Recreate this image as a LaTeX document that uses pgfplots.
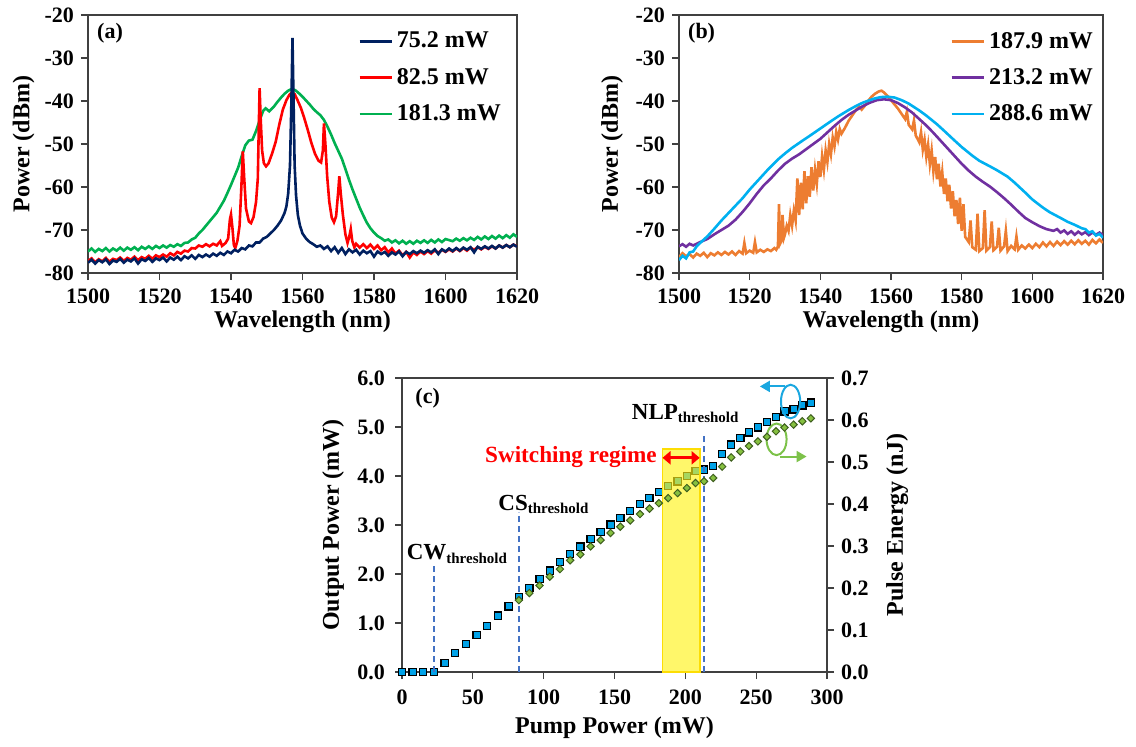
\documentclass[border=0pt]{standalone}
\usepackage{fontspec}
\setmainfont{Liberation Serif}
\usepackage{pgfplots}
\pgfplotsset{compat=1.18}
\usetikzlibrary{arrows.meta}

\definecolor{navyc}{HTML}{002060}
\definecolor{redc}{HTML}{FF0000}
\definecolor{greenc}{HTML}{00B050}
\definecolor{orangec}{HTML}{ED7D31}
\definecolor{purplec}{HTML}{7030A0}
\definecolor{cyanc}{HTML}{00B0F0}
\definecolor{sqfill}{HTML}{00A2E8}
\definecolor{dmfill}{HTML}{86C040}
\definecolor{dmedge}{HTML}{3F5F1F}
\definecolor{dashc}{HTML}{4472C4}
\definecolor{ellb}{HTML}{1AA7E0}
\definecolor{ellg}{HTML}{7DC24A}
\definecolor{framec}{HTML}{404040}

\newcommand{\thr}[1]{#1\raisebox{-0.3ex}{\fontsize{7.5}{8}\selectfont threshold}}

\pgfplotsset{
  base/.style={
    scale only axis,
    axis line style={framec, line width=0.6pt},
    every tick/.style={framec, line width=0.6pt},
    tick align=outside, major tick length=3.5pt,
    xtick pos=bottom, ytick pos=left,
    tick label style={font=\bfseries\fontsize{11}{13}\selectfont},
    label style={font=\bfseries\fontsize{12}{14}\selectfont},
    /pgf/number format/assume math mode=true,
    /pgf/number format/1000 sep={},
    xlabel style={at={(axis description cs:0.5,-0.19)}, anchor=center},
  },
  spec/.style={
    base, width=214.5pt, height=129pt,
    xmin=1500, xmax=1620, ymin=-80, ymax=-20,
    xtick={1500,1520,...,1620}, ytick={-80,-70,...,-20},
    xticklabel style={yshift=-0.8pt},
    xlabel={Wavelength (nm)}, ylabel={Power (dBm)},
    legend style={draw=none, fill=none, anchor=west,
      font=\bfseries\fontsize{12}{14}\selectfont, row sep=4.6pt,
      /tikz/every even column/.append style={column sep=0pt}},
    legend cell align=left,
    legend image code/.code={\draw[#1] (0pt,0pt) -- (16pt,0pt);},
    every axis plot/.append style={line width=1.3pt},
  },
}

\begin{document}
\begin{tikzpicture}
\useasboundingbox (0,0) rectangle (568pt,373pt);

% (a)
\begin{axis}[spec, at={(44pt,236.5pt)},
  ylabel style={at={(axis description cs:-0.150,0.5)}, anchor=center},
  legend style={at={(0.615,0.757)}}]
\addlegendimage{navyc, line width=1.3pt}\addlegendentry{75.2 mW}
\addlegendimage{redc, line width=1.3pt}\addlegendentry{82.5 mW}
\addlegendimage{greenc, line width=1.3pt}\addlegendentry{181.3 mW}
\addplot[greenc, forget plot] coordinates {
(1500,-75.0) (1501,-74.3) (1502,-75.1) (1503,-74.4) (1504,-74.9) (1505,-74.2) (1506,-75.0) (1507,-74.3)
(1508,-74.8) (1509,-74.1) (1510,-74.8) (1511,-74.1) (1512,-74.6) (1513,-74.0) (1514,-74.7) (1515,-73.9)
(1516,-74.4) (1517,-73.8) (1518,-74.4) (1519,-73.7) (1520,-74.2) (1521,-73.6) (1522,-74.1) (1523,-73.5)
(1524,-73.9) (1525,-73.3) (1526,-73.7) (1527,-73.0) (1528,-72.9) (1529,-72.2) (1530,-71.8) (1531,-70.8)
(1532,-70.0) (1533,-69.0) (1534,-68.0) (1535,-67.0) (1536,-66.0) (1537,-64.6) (1538,-63.2) (1539,-61.4)
(1540,-59.5) (1541,-57.5) (1542,-55.5) (1543,-52.8) (1544,-50.3) (1545,-49.2) (1546,-49.0) (1547,-47.0)
(1548,-44.5) (1549,-42.3) (1549.7,-41.7) (1550.7,-42.4) (1552,-41.3) (1553,-40.2) (1554,-39.2) (1555,-38.3)
(1556,-37.6) (1557,-37.2) (1558,-37.5) (1559,-38.2) (1560,-39.0) (1561,-39.9) (1562,-40.8) (1563,-41.8)
(1564,-42.6) (1565,-43.3) (1566,-44.4) (1567,-46.0) (1568,-47.8) (1569,-49.8) (1570,-51.6) (1571,-53.4)
(1572,-55.8) (1573,-58.3) (1574,-60.6) (1575,-62.7) (1576,-64.8) (1577,-66.6) (1578,-68.3) (1579,-69.6)
(1580,-70.6) (1581,-71.4) (1582,-71.9) (1583,-72.5) (1584,-72.2) (1585,-72.9) (1586,-72.4) (1587,-73.1)
(1588,-72.5) (1589,-73.2) (1590,-72.6) (1591,-73.2) (1592,-72.5) (1593,-73.0) (1594,-72.4) (1595,-73.0)
(1596,-72.3) (1597,-72.9) (1598,-72.2) (1599,-72.8) (1600,-72.1) (1602,-72.6) (1603,-72.0) (1604,-72.5)
(1605,-71.9) (1606,-72.4) (1607,-71.8) (1608,-72.3) (1609,-71.6) (1610,-72.2) (1611,-71.5) (1612,-72.1)
(1613,-71.4) (1614,-72.0) (1615,-71.3) (1616,-71.9) (1617,-71.2) (1618,-71.8) (1619,-71.0) (1620,-71.6)
};
\addplot[redc, forget plot] coordinates {
(1500,-77.2) (1501,-76.6) (1502,-77.5) (1503,-76.8) (1504,-77.3) (1505,-76.5) (1506,-77.4) (1507,-76.7)
(1508,-77.0) (1509,-76.4) (1510,-77.2) (1511,-76.5) (1512,-76.9) (1513,-76.2) (1514,-77.0) (1515,-76.3)
(1516,-76.7) (1517,-76.0) (1518,-76.7) (1519,-75.9) (1520,-76.3) (1521,-75.7) (1522,-76.2) (1523,-75.4)
(1524,-75.9) (1525,-75.1) (1526,-75.5) (1527,-74.8) (1528,-75.0) (1529,-74.2) (1530,-74.3) (1531,-73.6)
(1532,-73.9) (1533,-73.3) (1534,-73.8) (1535,-73.2) (1536,-73.6) (1537,-72.6) (1537.5,-73.7) (1538.5,-73.0)
(1539.2,-72.0) (1539.7,-67.5) (1540.0,-66.4) (1540.4,-69.5) (1540.8,-73.5) (1541.2,-74.2) (1541.8,-72.5)
(1542.4,-69.0) (1542.9,-60.0) (1543.3,-51.7) (1543.7,-58.0) (1544.2,-65.0) (1545,-68.0) (1545.6,-68.4)
(1546.3,-67.0) (1547,-63.5) (1547.5,-58.0) (1547.8,-45.0) (1548.0,-37.0) (1548.3,-44.0) (1548.7,-51.5)
(1549.2,-54.5) (1549.8,-55.2) (1550.5,-54.5) (1551.5,-52.2) (1552.5,-49.5) (1553.5,-45.5) (1554.5,-42.0)
(1555.5,-39.8) (1556.3,-38.6) (1557,-38.0) (1557.8,-38.4) (1558.5,-39.6) (1559.5,-41.5) (1560.5,-44.0)
(1561.5,-46.8) (1562.5,-49.8) (1563.5,-52.3) (1564.5,-53.9) (1565.2,-54.3) (1565.7,-51.5) (1566.0,-45.2)
(1566.4,-50.0) (1566.9,-57.5) (1567.5,-63.5) (1568.2,-67.2) (1568.8,-68.2) (1569.4,-66.8) (1570.0,-61.0)
(1570.3,-57.5) (1570.7,-61.5) (1571.3,-66.5) (1572,-71.0) (1572.6,-73.0) (1573.1,-71.5) (1573.5,-69.8)
(1573.9,-72.5) (1574.5,-74.0) (1575,-73.2) (1576,-74.1) (1577,-73.3) (1578,-74.2) (1579,-73.4) (1580,-74.4)
(1581,-73.6) (1582,-74.7) (1583,-74.0) (1584,-75.2) (1585,-74.3) (1586,-75.5) (1587,-74.8) (1588,-75.9)
(1589,-75.1) (1590,-76.4) (1591,-75.2) (1592,-75.8) (1593,-75.0) (1594,-75.6) (1595,-74.9) (1596,-75.5)
(1597,-74.7) (1598,-75.3) (1599,-74.6) (1600,-75.1) (1601,-74.5) (1602,-75.0) (1603,-74.3) (1604,-74.9)
(1605,-74.2) (1606,-74.8) (1607,-74.1) (1608,-74.6) (1609,-74.0) (1610,-74.5) (1611,-73.9) (1612,-74.4)
(1613,-73.8) (1614,-74.3) (1615,-73.6) (1616,-74.1) (1617,-73.5) (1618,-74.0) (1619,-73.4) (1620,-73.8)
};
\addplot[navyc, forget plot] coordinates {
(1500,-77.6) (1501,-76.9) (1502,-77.8) (1503,-77.0) (1504,-77.5) (1505,-76.8) (1506,-77.9) (1507,-77.1)
(1508,-77.4) (1509,-76.7) (1510,-77.6) (1511,-76.9) (1512,-77.3) (1513,-76.6) (1514,-77.8) (1515,-76.8)
(1516,-77.2) (1517,-76.5) (1518,-77.4) (1519,-76.6) (1520,-77.0) (1521,-76.4) (1522,-77.3) (1523,-76.4)
(1524,-76.9) (1525,-76.2) (1526,-77.0) (1527,-76.1) (1528,-76.6) (1529,-75.9) (1530,-76.7) (1531,-75.8)
(1532,-76.3) (1533,-75.7) (1534,-76.2) (1535,-75.5) (1536,-76.0) (1537,-75.3) (1538,-75.8) (1539,-75.0)
(1540,-75.4) (1541,-74.6) (1542,-75.0) (1543,-74.2) (1544,-74.5) (1545,-73.6) (1546,-73.8) (1547,-72.9)
(1548,-72.9) (1549,-72.0) (1550,-71.6) (1551,-70.8) (1552,-70.0) (1553,-69.0) (1554,-67.8) (1555,-66.0)
(1555.5,-64.5) (1556,-61.5) (1556.5,-55.0) (1556.9,-40.0) (1557.2,-25.3) (1557.5,-40.0) (1557.8,-55.0)
(1558.2,-62.0) (1558.7,-66.5) (1559.3,-69.0) (1560,-70.8) (1561,-72.0) (1562,-72.8) (1563,-73.3)
(1564,-73.9) (1565,-73.6) (1566,-74.4) (1567,-73.8) (1568,-74.9) (1569,-74.0) (1570,-75.3) (1571,-74.2)
(1572,-75.6) (1573,-74.5) (1574,-75.2) (1575,-74.6) (1576,-75.7) (1577,-74.8) (1578,-75.4) (1579,-74.9)
(1580,-76.2) (1581,-75.0) (1582,-75.6) (1583,-75.1) (1584,-76.0) (1585,-75.2) (1586,-75.7) (1587,-75.0)
(1588,-76.1) (1589,-75.1) (1590,-75.6) (1591,-74.9) (1592,-75.4) (1593,-74.8) (1594,-75.3) (1595,-74.7)
(1596,-75.2) (1597,-74.5) (1598,-75.6) (1599,-74.5) (1600,-75.0) (1601,-74.3) (1602,-74.9) (1603,-74.2)
(1604,-74.8) (1605,-74.1) (1606,-74.6) (1607,-74.0) (1608,-75.2) (1609,-73.9) (1610,-74.4) (1611,-73.8)
(1612,-74.3) (1613,-73.7) (1614,-74.3) (1615,-73.6) (1616,-74.1) (1617,-73.5) (1618,-74.0) (1619,-73.4)
(1620,-73.9)
};
\node[anchor=west, font=\bfseries\fontsize{11}{13}\selectfont] at (axis cs:1500.6,-24.2) {(a)};
\end{axis}

% (b)
\begin{axis}[spec, at={(339.5pt,236.5pt)}, width=212pt,
  ylabel style={at={(axis description cs:-0.158,0.5)}, anchor=center},
  legend style={at={(0.625,0.757)}}]
\addplot[orangec] coordinates {
(1500,-76.3) (1501,-75.4) (1502,-76.1) (1503,-75.6) (1504,-76.4) (1505,-75.5) (1506,-76.0) (1507,-75.3)
(1508,-76.3) (1509,-75.4) (1510,-75.9) (1511,-75.2) (1512,-75.8) (1513,-75.1) (1514,-75.7) (1515,-75.0)
(1516,-75.8) (1517,-74.9) (1518,-75.5) (1518.5,-73.0) (1519,-75.4) (1520,-74.8) (1521,-75.3) (1521.5,-72.8)
(1522,-75.2) (1523,-74.6) (1524,-75.1) (1525,-74.5) (1526,-74.9) (1527,-74.2) (1527.5,-74.6) (1528,-73.8)
(1528.3,-64.0) (1528.6,-73.2) (1529,-72.5) (1529.3,-66.5) (1529.7,-71.8) (1530,-71.0) (1530.5,-69.0)
(1531,-70.2) (1531.5,-66.5) (1532,-69.0) (1532.5,-65.5) (1533,-67.8) (1533.5,-58.0) (1534,-66.5)
(1534.5,-59.0) (1535,-65.2) (1535.5,-56.3) (1536,-63.8) (1536.5,-57.5) (1537,-62.3) (1537.5,-55.4)
(1538,-60.8) (1538.5,-56.0) (1539,-59.3) (1539.5,-54.0) (1540,-57.7) (1540.5,-52.8) (1541,-56.0)
(1541.5,-51.5) (1542,-54.2) (1542.5,-50.0) (1543,-52.4) (1543.5,-48.5) (1544,-50.6) (1544.5,-47.2)
(1545,-49.0) (1545.5,-46.5) (1546,-47.6) (1547,-46.2) (1548,-44.6) (1549,-43.4) (1550,-42.2) (1551,-41.3)
(1551.7,-42.0) (1552.5,-41.2) (1553.5,-40.0) (1554.5,-39.0) (1555.5,-38.3) (1556.5,-37.8) (1557.3,-37.6)
(1558,-38.0) (1559,-38.8) (1560,-39.8) (1561,-40.8) (1562,-41.8) (1563,-43.0) (1564,-44.2) (1564.5,-42.5)
(1565,-45.5) (1566,-46.6) (1566.5,-44.5) (1567,-48.0) (1568,-49.6) (1568.5,-47.2) (1569,-51.3)
(1569.5,-49.0) (1570,-53.0) (1570.5,-50.2) (1571,-54.7) (1571.5,-51.5) (1572,-56.4) (1572.5,-53.0)
(1573,-58.2) (1573.5,-54.6) (1574,-59.9) (1574.5,-56.5) (1575,-61.6) (1575.5,-58.0) (1576,-63.3)
(1576.5,-59.5) (1577,-65.0) (1577.5,-61.0) (1578,-66.8) (1578.5,-63.0) (1579,-68.6) (1579.5,-62.5)
(1580,-70.2) (1580.5,-64.0) (1581,-71.6) (1582,-72.8) (1582.5,-67.8) (1583,-74.0) (1584,-74.6)
(1584.5,-66.2) (1585,-74.9) (1586,-74.2) (1586.5,-65.4) (1587,-74.8) (1588,-74.0) (1588.5,-68.0)
(1589,-74.7) (1590,-73.9) (1590.5,-69.5) (1591,-74.8) (1592,-73.8) (1592.5,-70.2) (1593,-74.9)
(1594,-73.7) (1595,-74.5) (1595.5,-71.5) (1596,-74.6) (1597,-73.6) (1598,-74.3) (1599,-73.4) (1600,-74.2)
(1601,-73.2) (1602,-74.0) (1603,-72.9) (1604,-73.8) (1605,-72.8) (1606,-73.7) (1607,-72.7) (1608,-73.5)
(1609,-72.6) (1610,-73.4) (1611,-72.5) (1612,-73.3) (1613,-72.4) (1614,-73.2) (1615,-72.5) (1616,-73.4)
(1617,-72.3) (1618,-73.1) (1619,-72.2) (1620,-73.0)
};
\addlegendentry{187.9 mW}
\addplot[purplec] coordinates {
(1500,-73.8) (1501,-73.3) (1502,-73.9) (1503,-73.2) (1504,-73.6) (1506,-72.8) (1508,-72.1) (1510,-71.0)
(1512,-70.0) (1514,-69.0) (1516,-67.6) (1518,-65.8) (1520,-63.8) (1522,-61.6) (1524,-59.6) (1526,-58.0)
(1528,-56.2) (1530,-54.6) (1532,-53.4) (1534,-52.4) (1536,-51.2) (1538,-50.0) (1540,-48.8) (1542,-47.3)
(1544,-45.8) (1546,-44.4) (1548,-43.2) (1550,-42.2) (1552,-41.2) (1554,-40.4) (1556,-39.8) (1558,-39.6)
(1560,-39.8) (1562,-40.5) (1564,-41.5) (1566,-42.7) (1568,-44.2) (1570,-45.7) (1572,-47.4) (1574,-49.2)
(1576,-51.0) (1578,-52.8) (1580,-54.6) (1582,-56.2) (1584,-57.6) (1586,-58.8) (1588,-59.9) (1590,-61.2)
(1592,-62.6) (1594,-64.1) (1596,-65.7) (1598,-67.2) (1600,-68.2) (1602,-69.1) (1604,-69.8) (1606,-70.2)
(1607,-69.8) (1608,-70.6) (1609,-70.1) (1610,-70.9) (1611,-70.3) (1612,-71.1) (1613,-70.4) (1614,-71.0)
(1615,-70.5) (1616,-71.2) (1617,-70.6) (1618,-71.1) (1619,-70.6) (1620,-71.2)
};
\addlegendentry{213.2 mW}
\addplot[cyanc] coordinates {
(1500,-77.0) (1501,-76.0) (1502,-76.6) (1503,-75.2) (1504,-75.0) (1505,-73.8) (1506,-73.0) (1508,-71.5)
(1510,-69.7) (1512,-67.8) (1515,-65.2) (1518,-62.6) (1520,-60.6) (1522,-58.8) (1525,-56.1) (1528,-53.6)
(1530,-52.2) (1532,-50.9) (1535,-49.2) (1537,-48.1) (1540,-46.4) (1543,-44.7) (1545,-43.6) (1548,-42.1)
(1550,-41.2) (1552,-40.4) (1555,-39.5) (1557,-39.1) (1559,-39.0) (1561,-39.2) (1563,-39.8) (1565,-40.6)
(1568,-42.2) (1570,-43.4) (1573,-45.4) (1575,-46.9) (1578,-49.2) (1580,-50.7) (1583,-52.7) (1585,-53.9)
(1588,-55.2) (1590,-56.1) (1593,-57.6) (1595,-59.0) (1598,-61.3) (1600,-62.9) (1603,-64.8) (1605,-65.9)
(1608,-67.2) (1610,-68.1) (1612,-68.8) (1614,-69.6) (1615,-69.8) (1616,-70.6) (1617,-70.3) (1618,-71.3)
(1619,-70.9) (1620,-71.8)
};
\addlegendentry{288.6 mW}
\node[anchor=west, font=\bfseries\fontsize{11}{13}\selectfont] at (axis cs:1500.6,-24.2) {(b)};
\end{axis}

% (c) left axis
\begin{axis}[base, at={(201pt,37pt)}, width=212.5pt, height=147pt,
  xmin=0, xmax=300, ymin=0, ymax=6,
  xtick={0,50,...,300}, ytick={0,1,...,6},
  xticklabel style={yshift=-2pt},
  yticklabel style={xshift=-1.5pt, /pgf/number format/.cd, fixed, fixed zerofill, precision=1},
  xlabel={Pump Power (mW)}, ylabel={Output Power (mW)},
  ylabel style={at={(axis description cs:-0.162,0.5)}, anchor=center}]
\addplot[only marks, mark=square*, mark size=1.8pt,
  mark options={fill=sqfill, draw=black, line width=0.6pt}] coordinates {
(0,0) (7.5,0) (15,0) (22.5,0) (30.1,0.18) (37.6,0.39) (45.1,0.57) (52.6,0.76) (60.1,0.94) (67.7,1.15)
(75.2,1.34) (82.5,1.53) (89.9,1.71) (97.1,1.90) (104.3,2.07) (111.5,2.24) (118.7,2.41) (125.9,2.56)
(133.1,2.71) (140.2,2.86) (147.2,3.01) (154.1,3.14) (161.1,3.29) (168.0,3.43) (174.7,3.55) (181.3,3.67)
(187.9,3.79) (194.5,3.89) (201.1,4.00) (207.2,4.10) (213.2,4.13) (219.7,4.20) (226.0,4.45) (232.4,4.64)
(238.8,4.77) (244.9,4.89) (251.2,4.99) (257.6,5.10) (264.0,5.21) (270.0,5.32) (276.4,5.36) (282.6,5.44)
(288.6,5.50)
};
\end{axis}

% (c) right axis
\begin{axis}[base, at={(201pt,37pt)}, width=212.5pt, height=147pt,
  xmin=0, xmax=300, ymin=0, ymax=0.7,
  axis x line=none, axis y line*=right, ytick pos=right,
  ytick={0,0.1,0.2,0.3,0.4,0.5,0.6,0.7},
  yticklabel style={/pgf/number format/.cd, fixed, fixed zerofill, precision=1},
  ylabel={Pulse Energy (nJ)},
  ylabel style={at={(axis description cs:1.165,0.5)}, anchor=center}]
\addplot[only marks, mark=square*, mark size=1.3pt,
  mark options={rotate=45, fill=dmfill, draw=dmedge, line width=0.5pt}] coordinates {
(82.5,0.171) (89.9,0.188) (97.1,0.206) (104.3,0.227) (111.5,0.245) (118.7,0.266) (125.9,0.280)
(133.1,0.299) (140.2,0.314) (147.2,0.331) (154.1,0.346) (161.1,0.361) (168.0,0.376) (174.7,0.389)
(181.3,0.402) (187.9,0.414) (194.5,0.426) (201.1,0.438) (207.2,0.450) (213.2,0.454) (219.7,0.462)
(226.0,0.489) (232.4,0.511) (238.8,0.525) (244.9,0.538) (251.2,0.549) (257.6,0.560) (264.0,0.573)
(270.0,0.582) (276.4,0.589) (282.6,0.597) (288.6,0.604)
};
\fill[yellow!90!white, opacity=0.65] (axis cs:183.7,0) rectangle (axis cs:210.3,0.531);
\draw[yellow!80!orange, line width=0.6pt] (axis cs:183.7,0) rectangle (axis cs:210.3,0.531);
\draw[dashc, line width=1pt, dash pattern=on 3pt off 2pt] (axis cs:22.5,0) -- (axis cs:22.5,0.259);
\draw[dashc, line width=1pt, dash pattern=on 3pt off 2pt] (axis cs:82.5,0) -- (axis cs:82.5,0.381);
\draw[dashc, line width=1pt, dash pattern=on 3pt off 2pt] (axis cs:213.5,0) -- (axis cs:213.5,0.565);
\node[anchor=base west, inner sep=0pt, font=\bfseries\fontsize{11.5}{13}\selectfont] at (axis cs:3.1,0.267) {\thr{CW}};
\node[anchor=base west, inner sep=0pt, font=\bfseries\fontsize{11.5}{13}\selectfont] at (axis cs:67.8,0.385) {\thr{CS}};
\node[anchor=base west, inner sep=0pt, font=\bfseries\fontsize{11.5}{13}\selectfont] at (axis cs:162,0.602) {\thr{NLP}};
\node[anchor=base east, inner sep=0pt, text=redc, font=\bfseries\fontsize{11.6}{13}\selectfont] at (axis cs:180.1,0.498) {Switching regime};
\draw[redc, line width=1.6pt, {Triangle[length=4pt,width=6.5pt]}-{Triangle[length=4pt,width=6.5pt]}] (axis cs:183.9,0.510) -- (axis cs:210.1,0.510);
\node[anchor=west, font=\bfseries\fontsize{11}{13}\selectfont] at (axis cs:4.5,0.652) {(c)};
\draw[ellb, line width=1pt] (axis cs:274.3,0.644) ellipse [x radius=4.8pt, y radius=8.4pt];
\draw[ellb, line width=1pt, -{Triangle[length=5pt,width=5.5pt]}] (axis cs:270,0.680) -- (axis cs:252.6,0.680);
\draw[ellg, line width=1pt] (axis cs:264.4,0.554) ellipse [x radius=5pt, y radius=7.9pt];
\draw[ellg, line width=1pt, -{Triangle[length=5pt,width=5.5pt]}] (axis cs:266.8,0.513) -- (axis cs:285.6,0.513);
\end{axis}
\end{tikzpicture}
\end{document}
